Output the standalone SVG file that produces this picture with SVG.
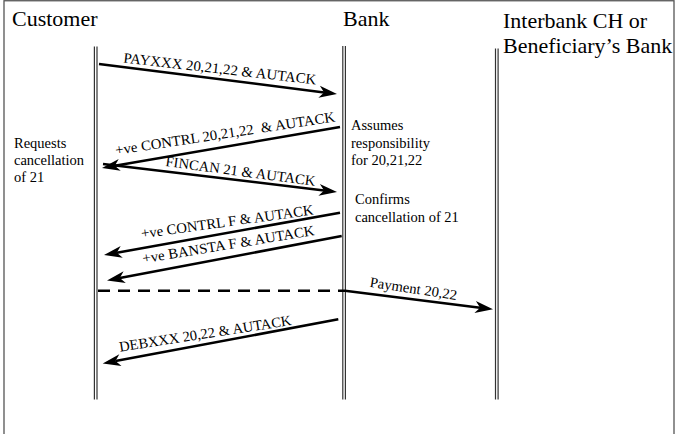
<svg xmlns="http://www.w3.org/2000/svg" width="675" height="434" viewBox="0 0 675 434">
<style>
.ll{stroke:#333;stroke-width:1.2;fill:none}
.msg{stroke:#000;stroke-width:2.5;fill:none}
</style>
<defs>
<marker id="ah" markerUnits="userSpaceOnUse" markerWidth="20" markerHeight="14" refX="5" refY="7" orient="auto" overflow="visible">
<path d="M0,1 L18,7 L0,13 L5,7 Z" fill="#000"/>
</marker>
</defs>
<rect x="4" y="0.75" width="670" height="445" fill="#fff" stroke="#555" stroke-width="1.3"/>
<g font-family="Liberation Serif, DejaVu Serif, Times New Roman, serif" fill="#000">
<g id="customer">
<text font-size="22" x="12" y="26">Customer</text>
<line class="ll" x1="94.4" y1="46.5" x2="94.4" y2="399.5"/>
<line class="ll" x1="97" y1="46.5" x2="97" y2="399.5"/>
<g font-size="14.5">
<text x="14" y="148">Requests</text>
<text x="14" y="165">cancellation</text>
<text x="14" y="182">of 21</text>
</g>
</g>
<g id="bank">
<text font-size="22" x="343" y="26">Bank</text>
<line class="ll" x1="342.8" y1="46" x2="342.8" y2="399.5"/>
<line class="ll" x1="345.4" y1="46" x2="345.4" y2="399.5"/>
<g font-size="14.5">
<text x="351" y="130">Assumes</text>
<text x="351" y="147.5">responsibility</text>
<text x="351" y="165">for 20,21,22</text>
<text x="355" y="203.5">Confirms</text>
<text x="355" y="221.5">cancellation of 21</text>
</g>
</g>
<g id="interbank">
<text font-size="22" x="503" y="27.5">Interbank CH or</text>
<text font-size="22" x="503" y="53">Beneficiary’s Bank</text>
<line class="ll" x1="495.5" y1="48.5" x2="495.5" y2="399.5"/>
<line class="ll" x1="498.1" y1="48.5" x2="498.1" y2="399.5"/>
</g>
<g id="connectors" font-size="14.5">
<line class="msg" x1="99" y1="64" x2="324.1" y2="92.4" marker-end="url(#ah)"/>
<text x="123" y="62.5" textLength="194" lengthAdjust="spacingAndGlyphs" transform="rotate(6.5 123 62.5)">PAYXXX 20,21,22 &amp; AUTACK</text>
<line class="msg" x1="340" y1="127" x2="114.8" y2="165.8" marker-end="url(#ah)"/>
<text x="116" y="155" textLength="222" lengthAdjust="spacingAndGlyphs" transform="rotate(-8.7 116 155)" xml:space="preserve">+ve CONTRL 20,21,22  &amp; AUTACK</text>
<line class="msg" x1="103" y1="164" x2="324.1" y2="190.5" marker-end="url(#ah)"/>
<text x="165" y="166" textLength="151" lengthAdjust="spacingAndGlyphs" transform="rotate(7.6 165 166)">FINCAN 21 &amp; AUTACK</text>
<line class="msg" x1="340" y1="212.7" x2="116.8" y2="252.7" marker-end="url(#ah)"/>
<text x="141.7" y="238.3" textLength="174" lengthAdjust="spacingAndGlyphs" transform="rotate(-7.9 141.7 238.3)">+ve CONTRL F &amp; AUTACK</text>
<line class="msg" x1="341.7" y1="236" x2="119.8" y2="278.1" marker-end="url(#ah)"/>
<text x="143.3" y="263.3" textLength="174" lengthAdjust="spacingAndGlyphs" transform="rotate(-9.4 143.3 263.3)">+ve BANSTA F &amp; AUTACK</text>
<line class="msg" x1="98" y1="290.7" x2="345" y2="290.7" stroke-dasharray="12 8"/>
<line class="msg" x1="345" y1="290.7" x2="480.1" y2="307.7" marker-end="url(#ah)"/>
<text x="369.3" y="286.7" textLength="88" lengthAdjust="spacingAndGlyphs" transform="rotate(8.7 369.3 286.7)">Payment 20,22</text>
<line class="msg" x1="338.3" y1="319.3" x2="115.5" y2="361.1" marker-end="url(#ah)"/>
<text x="120" y="351.7" textLength="174" lengthAdjust="spacingAndGlyphs" transform="rotate(-8.85 120 351.7)">DEBXXX 20,22 &amp; AUTACK</text>
</g>
</g>
</svg>
